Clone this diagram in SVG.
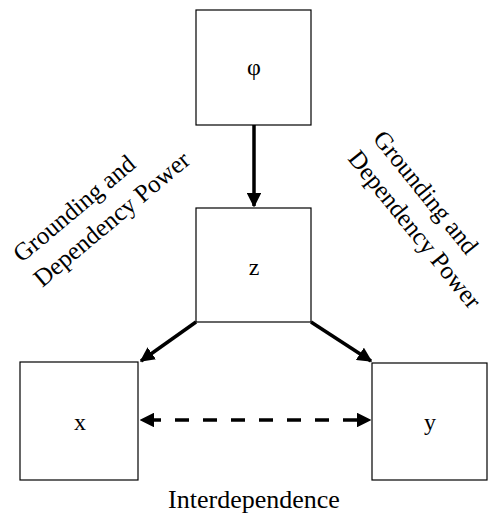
<svg xmlns="http://www.w3.org/2000/svg" width="488" height="517" viewBox="0 0 488 517">
<style>
.box{fill:#fff;stroke:#000;stroke-width:1.2}
.lbl{font-family:"Liberation Serif","Times New Roman",serif;font-size:24px;fill:#000;text-anchor:middle}
.cap{font-family:"Liberation Serif","Times New Roman",serif;font-size:26px;fill:#000;text-anchor:middle}
.rot{font-family:"Liberation Serif","Times New Roman",serif;font-size:25px;fill:#000;text-anchor:middle}
.arr{stroke:#000;stroke-width:3.5;fill:none}
</style>
<defs>
<marker id="ah" viewBox="0 0 10 10" refX="9" refY="5" markerWidth="4.2" markerHeight="4.2" orient="auto-start-reverse" markerUnits="strokeWidth">
<path d="M0,0 L10,5 L0,10 z" fill="#000"/>
</marker>
</defs>
<rect width="488" height="517" fill="#fff"/>
<g id="node-phi"><rect class="box" x="196" y="10" width="115" height="115"/><text class="lbl" x="254" y="75">φ</text></g>
<g id="node-z"><rect class="box" x="196" y="208" width="115" height="114"/><text class="lbl" x="254" y="275">z</text></g>
<g id="node-x"><rect class="box" x="20" y="362" width="118" height="118"/><text class="lbl" x="80" y="430">x</text></g>
<g id="node-y"><rect class="box" x="372" y="363" width="115" height="117"/><text class="lbl" x="430" y="430">y</text></g>
<g id="connectors">
<line class="arr" x1="254" y1="125" x2="254" y2="206" marker-end="url(#ah)"/>
<line class="arr" x1="196" y1="322" x2="141" y2="361" marker-end="url(#ah)"/>
<line class="arr" x1="311" y1="322" x2="371" y2="361" marker-end="url(#ah)"/>
<line class="arr" x1="141" y1="420" x2="370" y2="420" stroke-dasharray="14,14" stroke-dashoffset="-6" marker-start="url(#ah)" marker-end="url(#ah)"/>
</g>
<g id="labels">
<g transform="translate(93,214) rotate(-40)"><text class="rot" x="-11" y="-8">Grounding and</text><text class="rot" x="11" y="24">Dependency Power</text></g>
<g transform="translate(420,211) rotate(51)"><text class="rot" x="-11" y="-8">Grounding and</text><text class="rot" x="11" y="24">Dependency Power</text></g>
<text class="cap" x="254" y="508">Interdependence</text>
</g>
</svg>
